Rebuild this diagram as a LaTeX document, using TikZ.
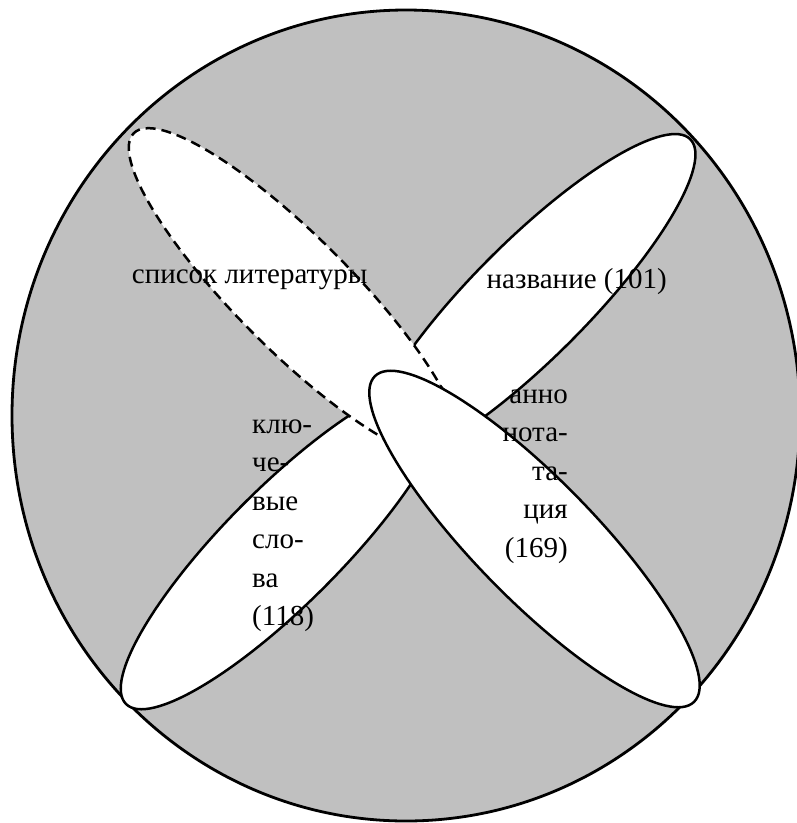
\documentclass[tikz,border=0pt]{standalone}
\usepackage{fontspec}
\setmainfont{Liberation Serif}
\newfontfamily\tnr{Liberation Serif}
\definecolor{bg}{RGB}{192,192,192}
\newcommand\leftstack[1]{\vtop{\baselineskip=38.5pt\halign{##\hfil\cr#1\crcr}}}
\newcommand\rightstack[1]{\vtop{\baselineskip=38.5pt\halign{\hfil##\cr#1\crcr}}}
\tikzset{
  petal/.style={fill=white, draw=black, line width=2.5pt},
  dashpetal/.style={petal, dash pattern=on 10pt off 6pt},
  lbl/.style={inner sep=0pt, font=\tnr\fontsize{29}{38.5}\selectfont},
}
\begin{document}
\begin{tikzpicture}[x=1pt,y=-1pt]
\useasboundingbox (0,0) rectangle (797,823);
\clip (0,0) rectangle (797,823);
% outer set
\filldraw[fill=bg, draw=black, line width=2.8pt] (406,415.5) ellipse [x radius=394pt, y radius=405.5pt];
% petals
\draw[petal, rotate around={45.1:(530,300)}] (530,300) ellipse [x radius=227pt, y radius=58pt];
\draw[petal, rotate around={45.1:(283.8,545.7)}] (283.8,545.7) ellipse [x radius=223.5pt, y radius=58pt];
\draw[dashpetal, rotate around={-45:(294.3,293.7)}] (294.3,293.7) ellipse [x radius=227pt, y radius=57pt];
\draw[petal, rotate around={-45.6:(534.5,539)}] (534.5,539) ellipse [x radius=228pt, y radius=60pt];
% labels
\node[lbl, anchor=base west] (lit) at (131.7,283.3) {список литературы};
\node[lbl, anchor=base west] (title) at (486.5,288) {название (101)};
\node[lbl, anchor=base west] (kw) at (252,433.3) {\leftstack{клю-\cr че-\cr вые\cr сло-\cr ва\cr (118)}};
\node[lbl, anchor=base east] (ann) at (568,403.3) {\rightstack{анно\cr нота-\cr та-\cr ция\cr (169)}};
\end{tikzpicture}
\end{document}
